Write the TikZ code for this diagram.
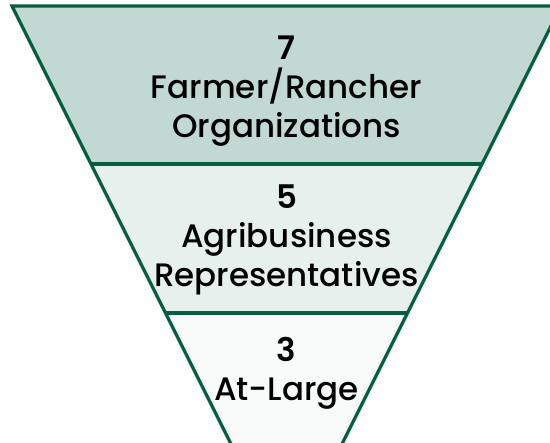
\documentclass[tikz,border=0pt]{standalone}
\usepackage{fontspec}
\setmainfont{Poppins}[UprightFont={* Medium},BoldFont={* SemiBold}]
\definecolor{edgegreen}{RGB}{6,94,62}
\definecolor{topband}{RGB}{193,217,210}
\definecolor{midband}{RGB}{230,240,237}
\definecolor{lowband}{RGB}{248,250,249}
\begin{document}
\begin{tikzpicture}[
	x=1pt,
	y=-1pt,
	bandline/.style={
		draw=edgegreen,
		line width=3.2pt
	},
	bandlabel/.style={
		align=center,
		inner sep=0pt,
		font=\fontsize{32.5}{39}\selectfont
	}
]

\useasboundingbox (0,0) rectangle (550,443);
\clip (0,0) rectangle (550,443);

\def\midx{286.5} % centre line of the funnel

% corners of the bands, left and right edge
\coordinate (topleft) at (12,6);
\coordinate (topright) at (561,6);
\coordinate (midleft) at (91,164);
\coordinate (midright) at (482,164);
\coordinate (lowleft) at (165.5,313);
\coordinate (lowright) at (407.5,313);
\coordinate (endleft) at (239,460);
\coordinate (endright) at (334,460);

\fill[topband] (topleft) -- (topright) -- (midright) -- (midleft) -- cycle;
\fill[midband] (midleft) -- (midright) -- (lowright) -- (lowleft) -- cycle;
\fill[lowband] (lowleft) -- (lowright) -- (endright) -- (endleft) -- cycle;

\draw[bandline] (endleft) -- (topleft) -- (topright) -- (endright);
\draw[bandline] (midleft) -- (midright);
\draw[bandline] (lowleft) -- (lowright);



\node[bandlabel] (farmers) at (\midx,91) {\textbf{7}\\Farmer/Rancher\\Organizations};
\node[bandlabel] (agri) at (\midx,240) {\textbf{5}\\Agribusiness\\Representatives};
\node[bandlabel] (atlarge) at (\midx,373) {\textbf{3}\\At-Large};

\end{tikzpicture}
\end{document}
